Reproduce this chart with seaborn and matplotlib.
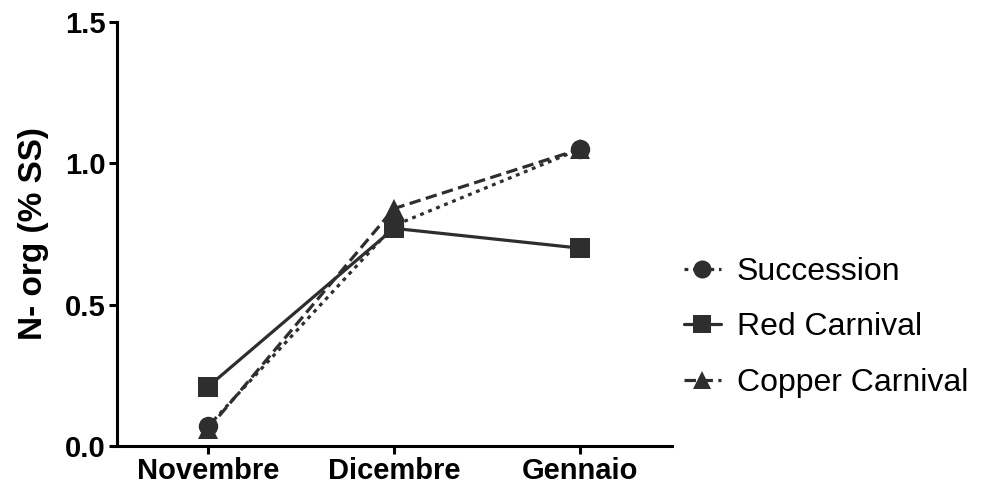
import pandas as pd
import numpy as np
import matplotlib.pyplot as plt
import seaborn as sns

months = ['Novembre', 'Dicembre', 'Gennaio']
succession = [0.07, 0.78, 1.05]
red_carnival = [0.21, 0.77, 0.70]
copper_carnival = [0.06, 0.84, 1.05]
series_names = ['Succession', 'Red Carnival', 'Copper Carnival']

df = pd.DataFrame({
    'mese': months * 3,
    'N': succession + red_carnival + copper_carnival,
    'varieta': [n for n in series_names for _ in months],
})

sns.set_style('ticks')
plt.rcParams['font.family'] = ['Liberation Sans', 'DejaVu Sans']
plt.rcParams['text.color'] = 'black'
plt.rcParams['axes.labelcolor'] = 'black'
plt.rcParams['xtick.color'] = 'black'
plt.rcParams['ytick.color'] = 'black'

fig = plt.figure(figsize=(9.86, 4.91), dpi=100)
ax = fig.add_axes([0.1187, 0.0916, 0.5628, 0.8636])

ink = '#2e2e2e'
sns.lineplot(data=df, x='mese', y='N', style='varieta', ax=ax,
             color=ink, linewidth=2.3,
             markers={'Succession': 'o', 'Red Carnival': 's', 'Copper Carnival': '^'},
             dashes={'Succession': (1.2, 1.5), 'Red Carnival': '', 'Copper Carnival': (3.6, 1.7)},
             markersize=14, markeredgewidth=0, style_order=series_names)

ax.set_xlim(-0.49, 2.495)
ax.set_ylim(0, 1.5)
ax.set_yticks([0, 0.5, 1.0, 1.5])
ax.set_yticklabels(['0.0', '0.5', '1.0', '1.5'])
ax.set_xlabel('')
ax.set_ylabel('N- org (% SS)', fontsize=24, fontweight='bold', labelpad=12)

ax.tick_params(width=2.2, length=6, color='black', labelcolor='black', pad=2, labelsize=21)
for lab in ax.get_xticklabels() + ax.get_yticklabels():
    lab.set_fontweight('bold')
for s in ['left', 'bottom']:
    ax.spines[s].set_linewidth(2.2)
    ax.spines[s].set_color('black')
sns.despine(ax=ax)

leg = ax.legend(loc='center left', bbox_to_anchor=(0.97, 0.28), frameon=False,
                fontsize=23, handlelength=1.15, labelspacing=0.8, handletextpad=0.5)
for h in leg.legend_handles:
    h.set_markersize(13)
for t in leg.get_texts():
    t.set_color('black')

fig.savefig('out.png', dpi=100)
